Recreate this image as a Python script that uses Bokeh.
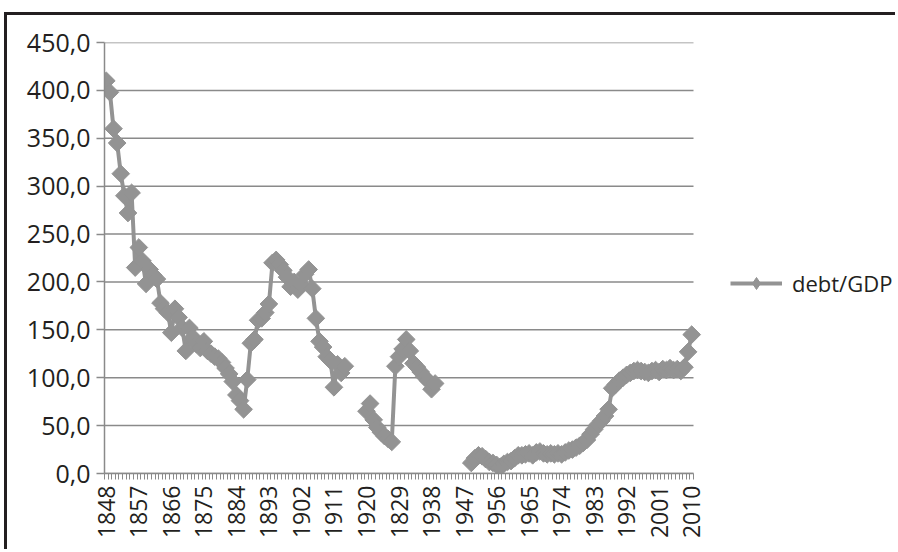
import numpy as np
from math import pi
from bokeh.plotting import figure
from bokeh.models import FixedTicker, Legend, LegendItem, ColumnDataSource
from bokeh.embed import file_html
from bokeh.resources import INLINE

# ---- data -------------------------------------------------------------
years = list(range(1848, 2011))

debt_1848_1914 = [410, 398, 360, 345, 313, 290, 272, 293, 215, 236,
                  222, 198, 213, 207, 203, 178, 172, 168, 147, 172,
                  163, 152, 128, 152, 142, 135, 131, 138, 128, 125,
                  122, 120, 116, 110, 104, 96, 82, 76, 67, 98,
                  136, 140, 160, 162, 168, 177, 220, 223, 218, 212,
                  205, 195, 200, 192, 197, 208, 213, 193, 162, 138,
                  132, 122, 118, 90, 114, 105, 112]
debt_1920_1939 = [65, 73, 56, 48, 43, 39, 36, 33, 112, 122,
                  130, 140, 128, 115, 111, 106, 101, 97, 88, 94]
debt_1949_2010 = [11, 16, 19, 18, 15, 12, 11, 9, 7, 10,
                  12, 13, 16, 19, 19, 20, 21, 19, 22, 23,
                  21, 20, 21, 20, 21, 20, 22, 24, 25, 27,
                  29, 32, 35, 41, 46, 51, 55, 60, 67, 89,
                  93, 97, 100, 103, 105, 107, 108, 107, 106, 105,
                  107, 108, 106, 109, 108, 110, 108, 109, 107, 111,
                  127, 145]
segment_starts = [1848, 1920, 1949]

tick_years = list(range(1848, 2011, 9))
tick_labels = ["1848", "1857", "1866", "1875", "1884", "1893", "1902", "1911",
               "1920", "1829", "1938", "1947", "1956", "1965", "1974", "1983",
               "1992", "2001", "2010"]
y_ticks = [0, 50, 100, 150, 200, 250, 300, 350, 400, 450]
y_tick_labels = ["0,0", "50,0", "100,0", "150,0", "200,0", "250,0",
                 "300,0", "350,0", "400,0", "450,0"]
series_name = "debt/GDP"

# ---- build full series with gaps ---------------------------------------
values = {y: np.nan for y in years}
for start, seg in zip(segment_starts, [debt_1848_1914, debt_1920_1939, debt_1949_2010]):
    for i, v in enumerate(seg):
        values[start + i] = v
debt = [values[y] for y in years]
src = ColumnDataSource(dict(x=years, y=debt))

x_lo = years[0] - 0.5
x_hi = years[-1] + 0.5

GRAY = "#939393"
GRID = "#8a8a8a"
TEXT = "#231f20"
FONT = "Open Sans"

# canvas: 891 x 537, plot area 589 px wide for the 163 categories,
# the frame continues to the right edge so that the legend is not clipped
CANVAS_W, CANVAS_H = 891, 537
LEFT, TOP, BOTTOM = 97, 27, 79
frame_w = CANVAS_W - LEFT
cat_px = 589 / len(years)
x_view_hi = x_lo + frame_w / cat_px

p = figure(width=CANVAS_W, height=CANVAS_H, x_range=(x_lo, x_view_hi), y_range=(0, 450),
           output_backend="svg", toolbar_location=None,
           min_border_left=LEFT, min_border_right=0, min_border_top=TOP,
           min_border_bottom=BOTTOM,
           styles={"border-top": "3px solid #231f20",
                   "border-left": "3px solid #231f20",
                   "margin-left": "4px", "margin-top": "12px"})
p.outline_line_color = None
p.background_fill_color = "white"
p.border_fill_color = "white"
p.xgrid.grid_line_color = None
p.ygrid.grid_line_color = None

# horizontal gridlines limited to the category span
p.segment(x0=[x_lo] * len(y_ticks), x1=[x_hi] * len(y_ticks), y0=y_ticks, y1=y_ticks,
          line_color=GRID, line_width=1.5)

ln = p.line("x", "y", source=src, line_color=GRAY, line_width=4)
sc = p.scatter("x", "y", source=src, marker="square", angle=pi / 4, size=12.5,
               fill_color=GRAY, line_color=GRAY)
# legend-only marker (not visible in the plot area)
leg_marker = p.scatter(x=[np.nan], y=[np.nan], marker="diamond", size=12,
                       fill_color=GRAY, line_color=GRAY)

# x axis
xa = p.xaxis[0]
xa.bounds = (x_lo, x_hi)
xa.ticker = FixedTicker(ticks=tick_years,
                        minor_ticks=[y - 0.5 for y in years] + [x_hi])
xa.major_label_overrides = {y: l for y, l in zip(tick_years, tick_labels)}
xa.major_label_orientation = pi / 2
xa.major_tick_out = 0
xa.major_tick_in = 0
xa.minor_tick_out = 6
xa.minor_tick_in = 0
xa.minor_tick_line_color = GRID
xa.axis_line_color = GRID
xa.axis_line_width = 1.5
xa.major_label_standoff = 6
xa.major_label_text_font = FONT
xa.major_label_text_font_size = "23px"
xa.major_label_text_color = TEXT

# y axis
ya = p.yaxis[0]
ya.ticker = FixedTicker(ticks=y_ticks)
ya.major_label_overrides = {v: l for v, l in zip(y_ticks, y_tick_labels)}
ya.major_tick_out = 8
ya.major_tick_in = 0
ya.minor_tick_out = 0
ya.minor_tick_in = 0
ya.major_tick_line_color = GRID
ya.major_tick_line_width = 1.5
ya.axis_line_color = GRID
ya.axis_line_width = 1.5
ya.major_label_standoff = 6
ya.major_label_text_font = FONT
ya.major_label_text_font_size = "25px"
ya.major_label_text_color = TEXT

legend = Legend(items=[LegendItem(label=series_name, renderers=[ln, leg_marker])],
                location=(626, 175), padding=0, margin=0,
                glyph_width=52, glyph_height=30, label_height=30,
                label_standoff=10, border_line_color=None,
                background_fill_alpha=0,
                label_text_font=FONT, label_text_font_size="22px",
                label_text_color=TEXT)
p.add_layout(legend, "center")

open("out.html", "w").write(file_html(p, INLINE))
